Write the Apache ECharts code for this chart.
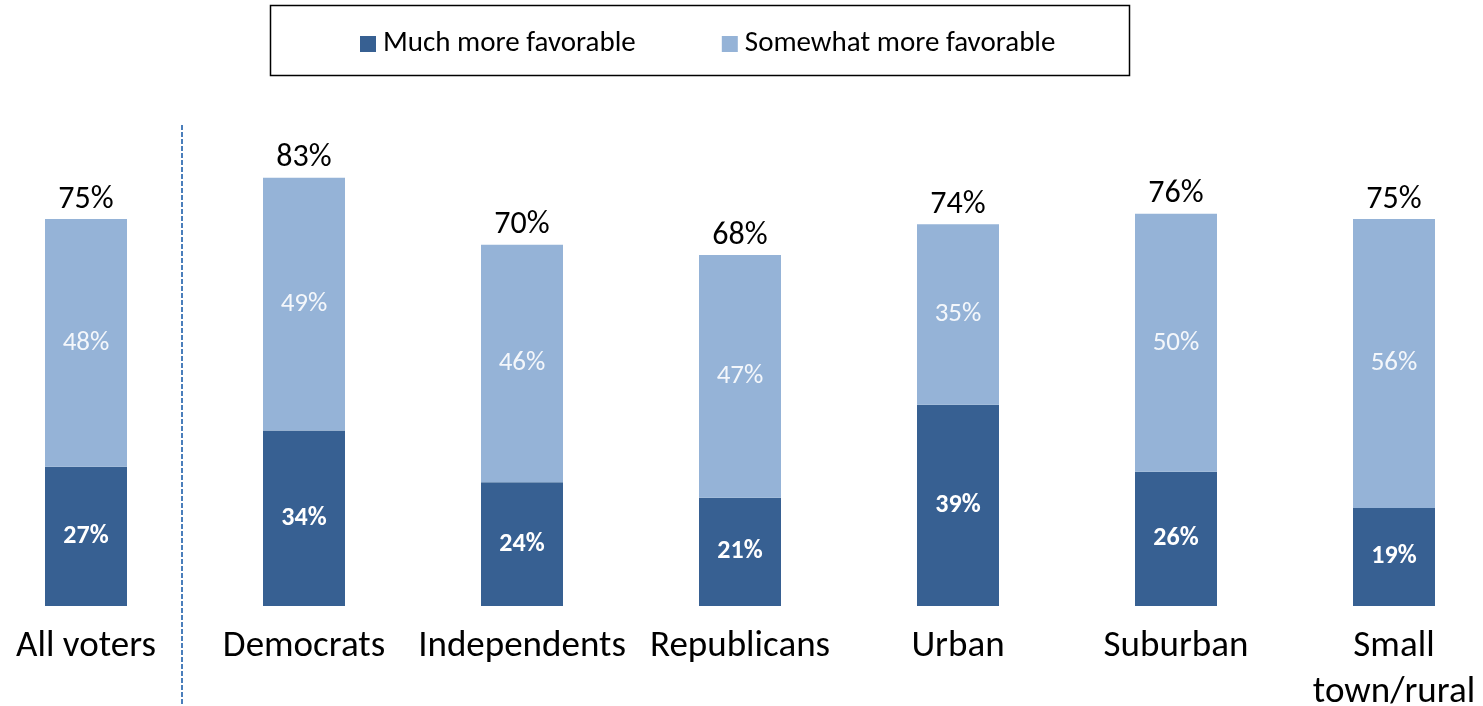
<!DOCTYPE html>
<html>
<head>
<meta charset="utf-8">
<script src="https://cdn.jsdelivr.net/npm/echarts@6/dist/echarts.min.js"></script>
<style>
  html, body { margin: 0; padding: 0; background: #fff; }
  #chart { width: 1483px; height: 706px; }
</style>
</head>
<body>
<div id="chart"></div>
<script>
// Survey groups and the share of voters in each who are more favorable
const categories = ['All voters', 'Democrats', 'Independents', 'Republicans', 'Urban', 'Suburban', 'Small\ntown/rural'];
const muchMore = [27, 34, 24, 21, 39, 26, 19];
const somewhatMore = [48, 49, 46, 47, 35, 50, 56];
const totals = muchMore.map((v, i) => v + somewhatMore[i]);

const FONT = 'Carlito, Calibri, "Open Sans", sans-serif';
const DARK = '#376092';
const LIGHT = '#95b3d7';

const chart = echarts.init(document.getElementById('chart'));

chart.setOption({
  animation: false,
  textStyle: { fontFamily: FONT },
  legend: {
    left: 355,
    top: 24,
    itemWidth: 16,
    itemHeight: 16,
    itemGap: 86,
    icon: 'rect',
    data: ['Much more favorable', 'Somewhat more favorable'],
    textStyle: { fontFamily: FONT, fontSize: 29, lineHeight: 30, color: '#000', padding: [0, 0, 0, 2] }
  },
  graphic: [
    {
      type: 'rect',
      shape: { x: 270.5, y: 5.5, width: 859, height: 70 },
      style: { fill: 'none', stroke: '#000', lineWidth: 1.5 },
      silent: true
    },
    {
      type: 'line',
      shape: { x1: 182, y1: 125, x2: 182, y2: 706 },
      style: { stroke: '#4a7ebb', lineWidth: 2, lineDash: [5, 2] },
      silent: true
    }
  ],
  grid: { left: -23, width: 1526, top: 90, height: 516, containLabel: false, outerBoundsMode: 'none' },
  xAxis: {
    type: 'category',
    data: categories,
    axisLine: { show: false },
    axisTick: { show: false },
    axisLabel: {
      margin: 18,
      fontFamily: FONT,
      fontSize: 37,
      lineHeight: 46,
      color: '#000',
      interval: 0
    }
  },
  yAxis: {
    type: 'value',
    min: 0,
    max: 100,
    show: false,
    splitLine: { show: false }
  },
  series: [
    {
      name: 'Much more favorable',
      type: 'bar',
      stack: 'fav',
      barWidth: 82,
      data: muchMore,
      itemStyle: { color: DARK },
      label: {
        show: true,
        position: 'inside',
        formatter: '{c}%',
        color: '#fff',
        fontWeight: 'bold',
        fontSize: 26,
        fontFamily: FONT
      }
    },
    {
      name: 'Somewhat more favorable',
      type: 'bar',
      stack: 'fav',
      barWidth: 82,
      data: somewhatMore,
      itemStyle: { color: LIGHT },
      label: {
        show: true,
        position: 'inside',
        formatter: '{c}%',
        color: '#f4f7fb',
        fontSize: 27,
        fontFamily: FONT
      }
    },
    {
      name: 'Total',
      type: 'line',
      data: totals,
      symbol: 'circle',
      symbolSize: 1,
      itemStyle: { color: 'rgba(0,0,0,0)' },
      lineStyle: { width: 0, opacity: 0 },
      silent: true,
      label: {
        show: true,
        position: 'top',
        distance: 3,
        formatter: '{c}%',
        color: '#000',
        fontSize: 32,
        fontFamily: FONT
      }
    }
  ]
});
</script>
</body>
</html>
